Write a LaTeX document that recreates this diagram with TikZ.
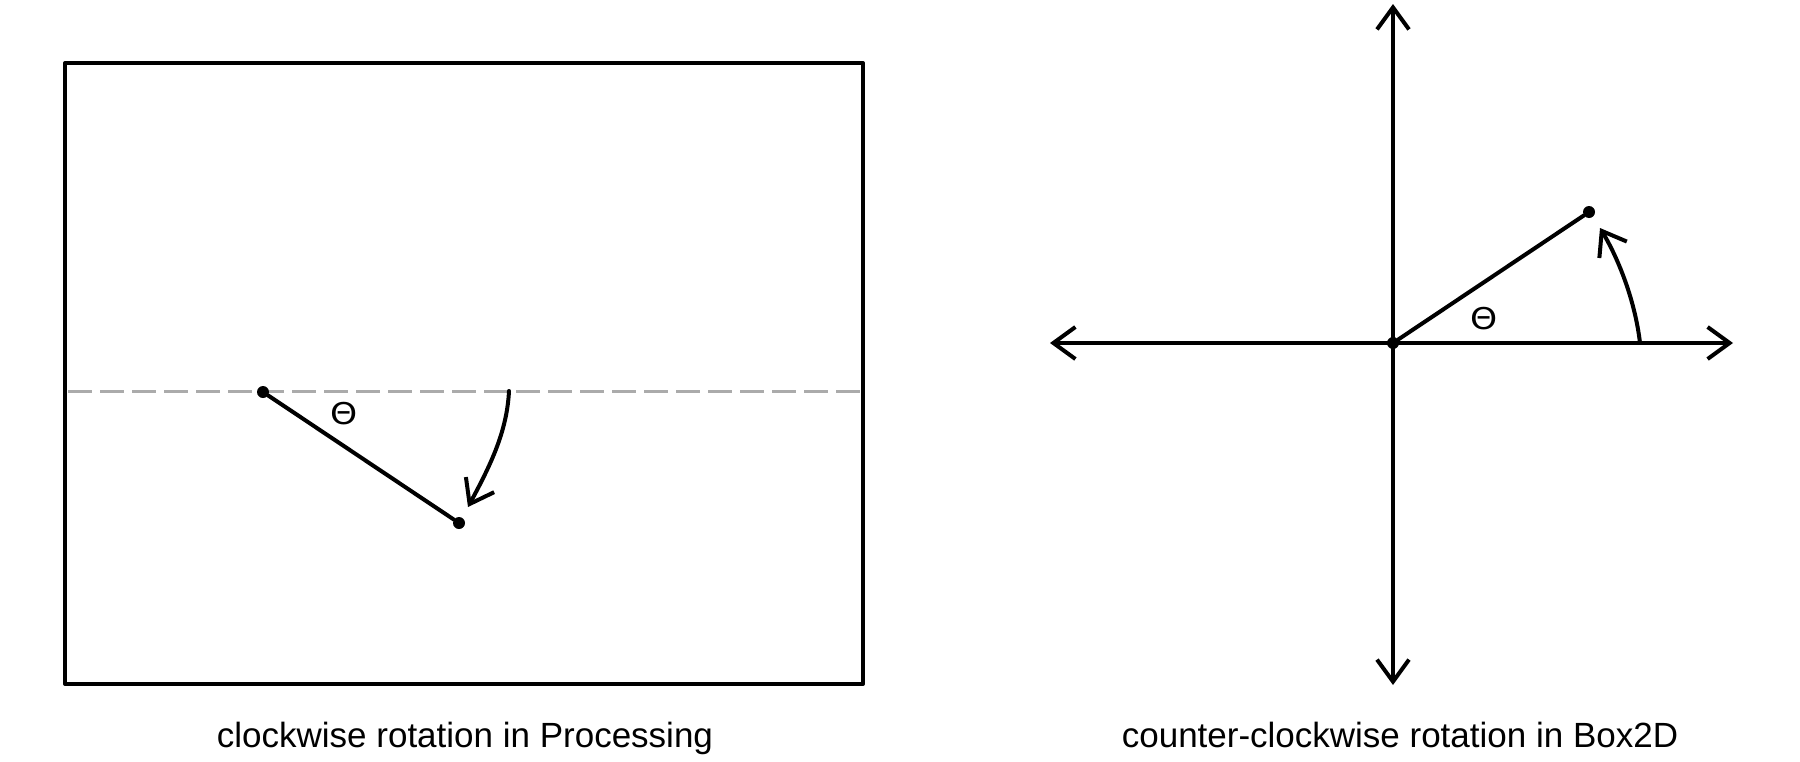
\documentclass[tikz,border=0pt]{standalone}
\usepackage{fontspec}
\setmainfont{Liberation Sans}
\newfontfamily\thetafont{DejaVu Sans}
\usetikzlibrary{arrows.meta}
\tikzset{
  ink/.style={draw=black, line width=4pt, line cap=round, line join=round},
  barb/.style={ink, -{Straight Barb[length=22pt,width=32pt,line width=4pt]}},
  guide/.style={draw=black!33, line width=3pt, dash pattern=on 24pt off 8pt},
  dotmark/.style={circle, fill=black, inner sep=0pt, minimum size=12pt},
  caption/.style={font=\fontsize{35}{40}\selectfont, anchor=base, inner sep=0pt},
  thetalabel/.style={font=\thetafont\fontsize{30}{34}\selectfont, xscale=1.15, inner sep=0pt}
}
\begin{document}
\begin{tikzpicture}[x=1pt, y=-1pt]
\useasboundingbox (0,0) rectangle (1800,761);
% left panel
\draw[ink] (65,63) rectangle (863,684);
\coordinate (gl) at (68,391);
\coordinate (gr) at (861,391);
\draw[guide] (gl) -- (gr);
\node[dotmark] (a) at (263,392) {};
\node[dotmark] (b) at (459,523) {};
\draw[ink] (a) -- (b);
\node[thetalabel] (tl) at (344,414) {Θ};
\coordinate (as) at (509,391);
\coordinate (ae) at (468,507);
\draw[barb] (as) .. controls (507,432) and (490,466) .. (ae);
\node[caption] (c1) at (465,747) {clockwise rotation in Processing};
% right panel
\node[dotmark] (o) at (1393,343) {};
\coordinate (xl) at (1050,343);
\coordinate (xr) at (1733,343);
\coordinate (yt) at (1393,4);
\coordinate (yb) at (1393,685);
\draw[barb] (o.center) -- (xl);
\draw[barb] (o.center) -- (xr);
\draw[barb] (o.center) -- (yt);
\draw[barb] (o.center) -- (yb);
\node[dotmark] (p) at (1589,212) {};
\draw[ink] (o) -- (p);
\node[thetalabel] (tr) at (1484,319) {Θ};
\coordinate (bs) at (1640,343);
\coordinate (be) at (1600,228);
\draw[barb] (bs) .. controls (1635,300) and (1618,258) .. (be);
\node[caption] (c2) at (1400,747) {counter-clockwise rotation in Box2D};
\end{tikzpicture}
\end{document}
